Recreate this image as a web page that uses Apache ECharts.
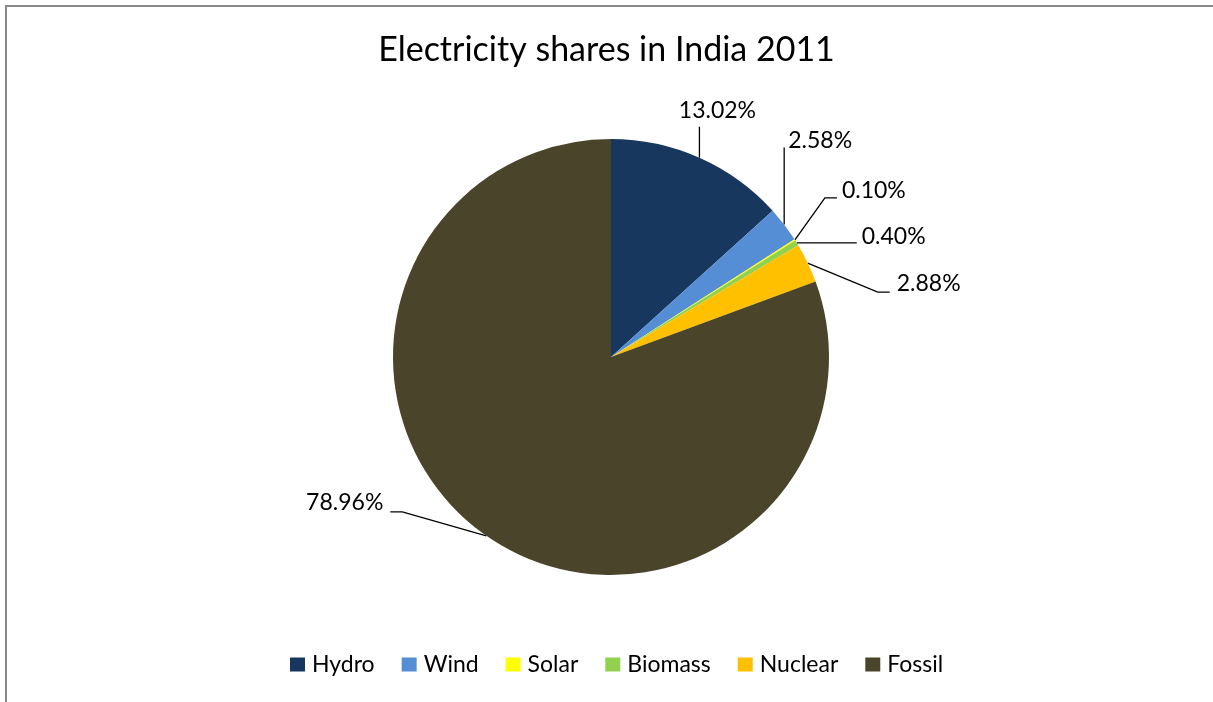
<!DOCTYPE html>
<html><head><meta charset="utf-8">
<script src="https://cdn.jsdelivr.net/npm/echarts@6/dist/echarts.min.js"></script>
<style>html,body{margin:0;padding:0;background:#fff}#c{width:1213px;height:702px}</style>
</head><body><div id="c"></div>
<script>
const categories = ['Hydro', 'Wind', 'Solar', 'Biomass', 'Nuclear', 'Fossil'];
const shares = [13.02, 2.58, 0.10, 0.40, 2.88, 78.96];
const colors = ['#17375E', '#558ED5', '#FFFF00', '#92D050', '#FFC000', '#4A452A'];
const titleText = 'Electricity shares in India 2011';

// Leader-line layout, offsets relative to the slice-edge point computed by ECharts
const leaders = [
  { elbow: [0, -31], end: [0, -31], label: [18, -47], align: 'center' },
  { elbow: [0, -77], end: [0, -77], label: [4, -84], align: 'left' },
  { elbow: [30, -42], end: [42, -42], label: [47, -49], align: 'left' },
  { elbow: [60, 0], end: [60, 0], label: [65, -6], align: 'left' },
  { elbow: [70, 29], end: [82, 29], label: [89, 21], align: 'left' },
  { elbow: [-84, -24], end: [-96, -24], label: [-103, -33], align: 'right' }
];

const chart = echarts.init(document.getElementById('c'), null, { renderer: 'canvas' });
const FONT = 'Lato';
chart.setOption({
  animation: false,
  color: colors,
  backgroundColor: '#fff',
  title: {
    text: titleText, left: 'center', top: 28,
    textStyle: { fontFamily: FONT, fontSize: 34, fontWeight: 'normal', color: '#000' }
  },
  legend: {
    data: categories, top: 648, left: 285, orient: 'horizontal',
    icon: 'rect', itemWidth: 15, itemHeight: 14, itemGap: 27,
    textStyle: { fontFamily: FONT, fontSize: 23, color: '#000', padding: [0, 0, 0, 2] }
  },
  graphic: [{
    type: 'rect', silent: true, z: 100,
    shape: { x: 6, y: 6, width: 1300, height: 800 },
    style: { fill: 'none', stroke: '#898989', lineWidth: 2 }
  }],
  series: [{
    type: 'pie',
    center: [611, 357], radius: 218,
    startAngle: 90, clockwise: true,
    avoidLabelOverlap: false,
    itemStyle: { borderWidth: 0 },
    emphasis: { disabled: true },
    label: {
      show: true, position: 'outside',
      formatter: p => p.value.toFixed(2) + '%',
      fontFamily: FONT, fontSize: 23, color: '#000'
    },
    labelLine: { show: true, length: 10, length2: 10, lineStyle: { color: '#000', width: 1.3 } },
    labelLayout: function (params) {
      const L = leaders[params.dataIndex];
      const pts = params.labelLinePoints;
      if (!L || !pts) return {};
      const p0 = pts[0];
      return {
        x: p0[0] + L.label[0], y: p0[1] + L.label[1],
        align: L.align, verticalAlign: 'middle',
        labelLinePoints: [
          [p0[0], p0[1]],
          [p0[0] + L.elbow[0], p0[1] + L.elbow[1]],
          [p0[0] + L.end[0], p0[1] + L.end[1]]
        ]
      };
    },
    data: categories.map((n, i) => ({ name: n, value: shares[i] }))
  }]
});
</script></body></html>
